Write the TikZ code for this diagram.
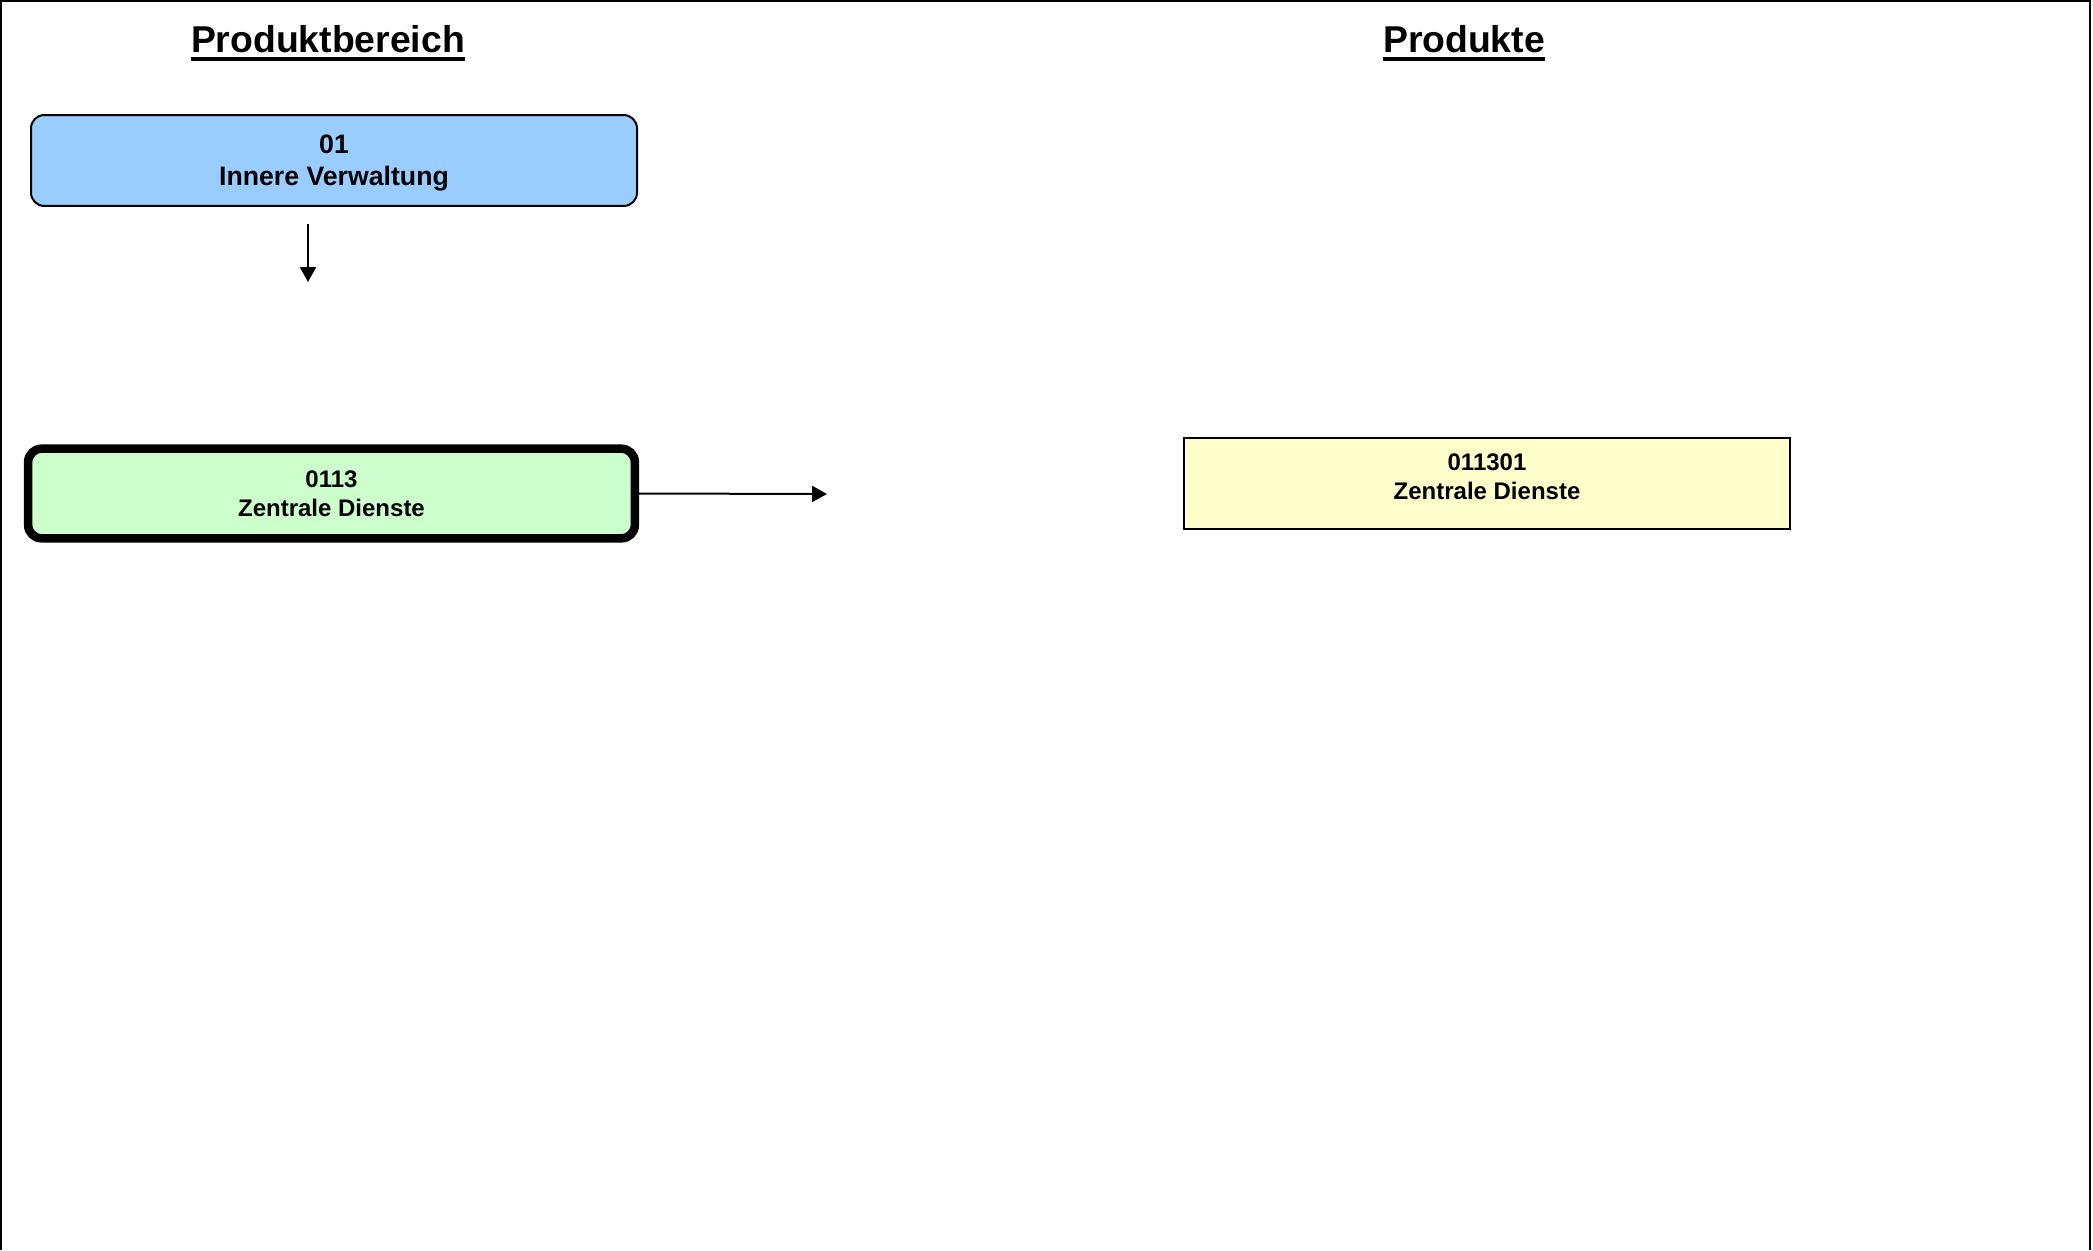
\documentclass[tikz,border=0pt]{standalone}
\usepackage{fontspec}
\setmainfont{Liberation Sans}
\usetikzlibrary{arrows.meta}
\definecolor{pbblue}{HTML}{99CCFF}
\definecolor{pbgreen}{HTML}{CCFFCC}
\definecolor{pbyellow}{HTML}{FFFFCC}
\tikzset{
  titletext/.style={inner sep=0pt, anchor=base, font=\fontsize{14}{17}\selectfont\bfseries},
  boxtext/.style={align=center, inner sep=0pt, font=\fontsize{9}{10.9}\selectfont\bfseries},
  areatext/.style={align=center, inner sep=0pt, font=\fontsize{10}{12}\selectfont\bfseries},
  areabox/.style={draw=black, line width=0.75pt, fill=pbblue, rounded corners=5pt,
    minimum width=227.25pt, minimum height=34.1pt, inner sep=0pt},
  groupbox/.style={draw=black, line width=3.2pt, fill=pbgreen, rounded corners=5pt,
    minimum width=227.5pt, minimum height=33.6pt, align=center, inner sep=0pt,
    font=\fontsize{9}{10.9}\selectfont\bfseries},
  prodbox/.style={draw=black, line width=0.75pt, fill=pbyellow,
    minimum width=227.25pt, minimum height=34.1pt, inner sep=0pt},
  conn/.style={draw=black, line width=0.75pt, -{Triangle[length=5.6pt,width=6pt]}},
  frameline/.style={draw=black, line width=0.75pt}
}
\begin{document}
\begin{tikzpicture}[x=0.375pt, y=-0.375pt]
  \useasboundingbox (0,0) rectangle (2093,1250);
  % outer frame
  \draw[frameline] (1,1250) -- (1,1) -- (2090,1) -- (2090,1250);

  % titles
  \node[titletext] (t1) at (328,52) {Produktbereich};
  \draw[line width=1.3pt] ([yshift=-2.6pt]t1.base west) -- ([yshift=-2.6pt]t1.base east);
  \node[titletext] (t2) at (1464,52) {Produkte};
  \draw[line width=1.3pt] ([yshift=-2.6pt]t2.base west) -- ([yshift=-2.6pt]t2.base east);

  % boxes
  \node[areabox] (b01) at (334,160.5) {};
  \node[areatext] (b01t) at (334,163.5) {01\\Innere Verwaltung};
  \node[groupbox] (b0113) at (331.5,493.5) {0113\\Zentrale Dienste};
  \node[prodbox] (b011301) at (1487,483.5) {};
  \node[boxtext] (b011301t) at (1487,476.5) {011301\\Zentrale Dienste};

  % connectors
  \coordinate (d1s) at (308,224);
  \coordinate (d1e) at (308,282);
  \draw[conn] (d1s) -- (d1e);
  \coordinate (r1e) at (827,494);
  \draw[conn] (b0113.east) -- (r1e);
\end{tikzpicture}
\end{document}
